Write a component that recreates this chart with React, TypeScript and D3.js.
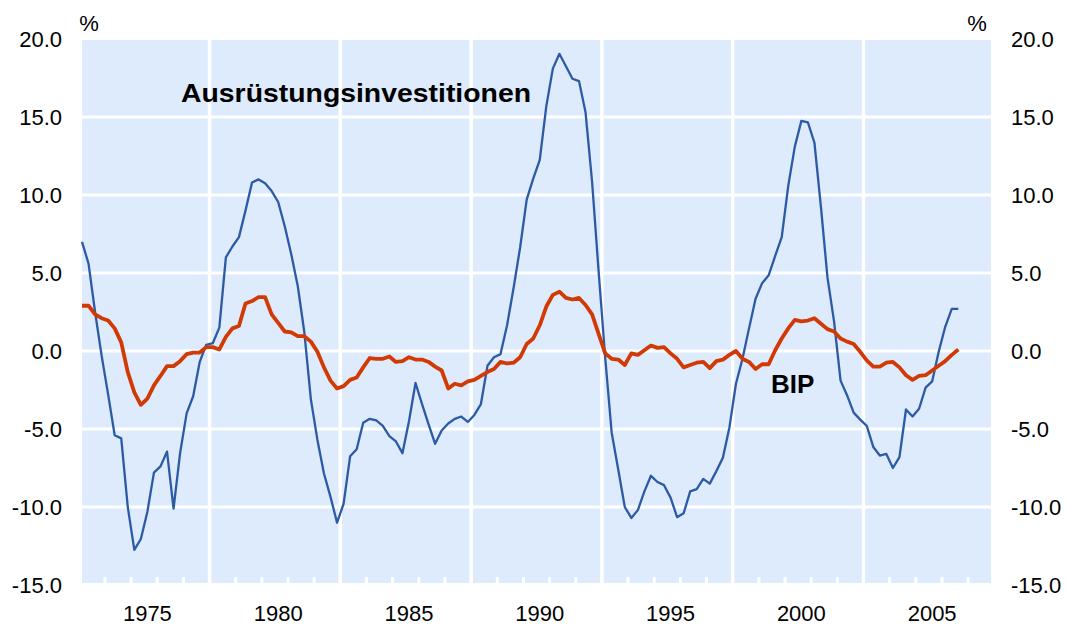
import React from "react";
import * as d3 from "d3";

// quarterly y/y growth in %, first value = 1972 Q3
const firstQuarter = 1972.5;

const ausruestung = [
  7.0, 5.6, 2.5, -0.3, -2.8, -5.4, -5.6, -10.0, -12.75, -12.05,
  -10.3, -7.8, -7.4, -6.45, -10.1, -6.55, -4.0, -2.9, -0.7, 0.4,
  0.5, 1.5, 6.0, 6.7, 7.3, 9.0, 10.8, 11.0, 10.75, 10.25,
  9.55, 8.0, 6.2, 4.15, 1.2, -3.1, -5.7, -7.85, -9.35, -11.0,
  -9.8, -6.75, -6.3, -4.6, -4.35, -4.45, -4.8, -5.45, -5.8, -6.55,
  -4.5, -2.05, -3.4, -4.7, -5.95, -5.1, -4.65, -4.35, -4.2, -4.55,
  -4.1, -3.4, -0.95, -0.4, -0.2, 1.65, 4.05, 6.65, 9.7, 11.05,
  12.25, 15.7, 18.1, 19.05, 18.25, 17.45, 17.3, 15.3, 10.85, 5.1,
  -0.4, -5.25, -7.6, -10.0, -10.7, -10.2, -9.0, -8.0, -8.4, -8.6,
  -9.4, -10.65, -10.4, -9.0, -8.85, -8.2, -8.5, -7.7, -6.85, -4.9,
  -2.1, -0.5, 1.45, 3.35, 4.35, 4.85, 6.1, 7.3, 10.6, 13.1,
  14.75, 14.65, 13.35, 9.2, 4.7, 1.9, -1.9, -2.85, -3.95, -4.4,
  -4.8, -6.15, -6.7, -6.6, -7.5, -6.8, -3.75, -4.2, -3.7, -2.35,
  -1.95, -0.05, 1.55, 2.7, 2.7,
];

const bip = [
  2.9, 2.9, 2.35, 2.1, 1.95, 1.45, 0.55, -1.35, -2.65, -3.45,
  -3.05, -2.2, -1.6, -0.97, -0.97, -0.65, -0.2, -0.1, -0.1, 0.25,
  0.25, 0.1, 0.9, 1.45, 1.6, 3.05, 3.2, 3.45, 3.45, 2.35,
  1.8, 1.25, 1.2, 0.95, 0.95, 0.6, -0.05, -1.05, -1.9, -2.4,
  -2.25, -1.85, -1.7, -1.05, -0.45, -0.5, -0.5, -0.35, -0.7, -0.65,
  -0.4, -0.55, -0.55, -0.7, -1.0, -1.25, -2.4, -2.1, -2.2, -1.95,
  -1.85, -1.6, -1.35, -1.15, -0.7, -0.8, -0.75, -0.4, 0.45, 0.8,
  1.65, 2.85, 3.6, 3.8, 3.4, 3.3, 3.4, 2.95, 2.35, 1.1,
  -0.15, -0.5, -0.55, -0.9, -0.15, -0.25, 0.05, 0.35, 0.2, 0.25,
  -0.15, -0.5, -1.05, -0.9, -0.75, -0.7, -1.1, -0.65, -0.55, -0.25,
  0.0, -0.5, -0.7, -1.15, -0.85, -0.85, 0.05, 0.8, 1.45, 2.0,
  1.9, 1.95, 2.1, 1.75, 1.4, 1.25, 0.8, 0.6, 0.45, -0.05,
  -0.6, -1.0, -1.0, -0.75, -0.7, -1.05, -1.55, -1.85, -1.6, -1.55,
  -1.25, -0.95, -0.65, -0.25, 0.1,
];

const yearLabels = [1975, 1980, 1985, 1990, 1995, 2000, 2005];
const yTicks = [20, 15, 10, 5, 0, -5, -10, -15];
const gridValues = [15, 10, 5, 0, -5, -10];

const font = "'Liberation Sans', Arial, sans-serif";

const App = () => {
  const width = 1066;
  const height = 625;
  const left = 82;
  const right = 991;
  const top = 39;
  const bottom = 585;

  // category axis runs one step per quarter, up to 2007 Q2
  const x = d3.scaleLinear().domain([0, 139]).range([left, right]);
  const y = d3.scaleLinear().domain([-15, 20]).range([bottom, top]);

  const line = d3
    .line<number>()
    .x((d, i) => x(i))
    .y((d) => y(d));

  const minorTicks = d3.range(3.5, 139, 4);
  const majorLines = d3.range(19.5, 139, 20);

  return (
    <svg
      width={width}
      height={height}
      style={{ position: "absolute", left: 0, top: 0, background: "white" }}
      fontFamily={font}
    >
      <rect x={left} y={top + 1} width={right - left} height={bottom - top - 3} fill="#DDEBFC" />

      {gridValues.map((v) => (
        <line key={v} x1={left} x2={right} y1={y(v)} y2={y(v)} stroke="white" strokeWidth={3} />
      ))}
      {majorLines.map((i) => (
        <line key={i} x1={x(i)} x2={x(i)} y1={top} y2={bottom} stroke="white" strokeWidth={3.5} />
      ))}
      {minorTicks.map((i) => (
        <line key={i} x1={x(i)} x2={x(i)} y1={bottom - 8} y2={bottom} stroke="white" strokeWidth={3} />
      ))}

      <path d={line(ausruestung) || ""} fill="none" stroke="#2C5AA5" strokeWidth={2.3} strokeLinejoin="round" />
      <path d={line(bip) || ""} fill="none" stroke="#D13A05" strokeWidth={3.8} strokeLinejoin="round" />

      {yTicks.map((v) => (
        <g key={v} fontSize={22} fill="#000">
          <text x={62} y={y(v)} dy="0.36em" textAnchor="end">
            {v.toFixed(1)}
          </text>
          <text x={1011} y={y(v)} dy="0.36em" textAnchor="start">
            {v.toFixed(1)}
          </text>
        </g>
      ))}

      {yearLabels.map((yr) => (
        <text key={yr} x={x((yr - firstQuarter) * 4)} y={621} fontSize={22} textAnchor="middle">
          {yr}
        </text>
      ))}

      <text x={89} y={31} fontSize={22} textAnchor="middle">%</text>
      <text x={977} y={31} fontSize={22} textAnchor="middle">%</text>

      <text x={181} y={102} fontSize={26} fontWeight="bold" textLength={350} lengthAdjust="spacingAndGlyphs">
        Ausrüstungsinvestitionen
      </text>
      <text x={771} y={393} fontSize={26} fontWeight="bold">
        BIP
      </text>
    </svg>
  );
};

export default App;
